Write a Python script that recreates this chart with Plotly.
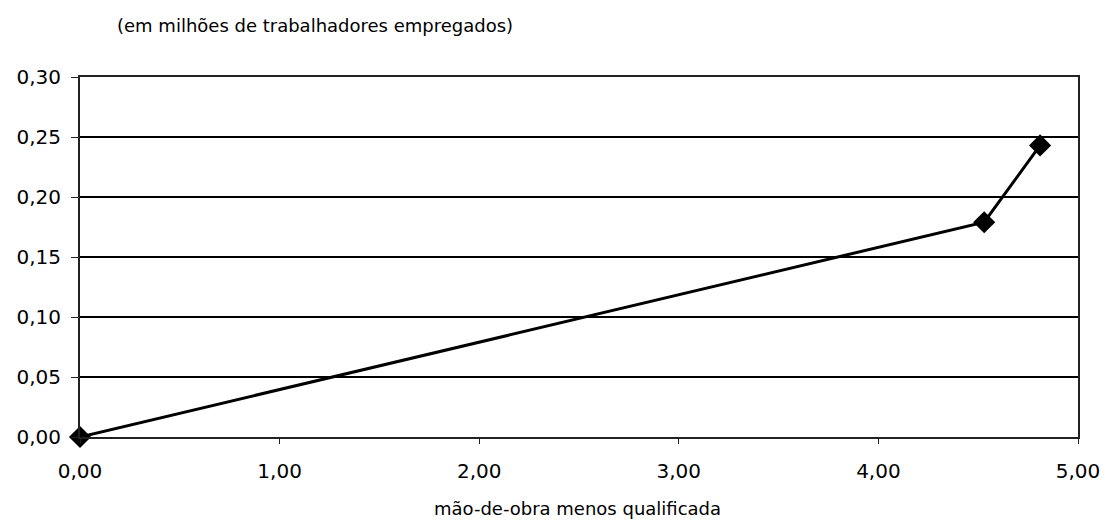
import plotly.graph_objects as go

# Trabalhadores empregados (milhões) vs. mão-de-obra menos qualificada
x_vals = [0.00, 4.53, 4.81]
y_vals = [0.00, 0.179, 0.243]

x_ticks = [0, 1, 2, 3, 4, 5]
x_ticktext = ["0,00", "1,00", "2,00", "3,00", "4,00", "5,00"]
y_ticks = [0, 0.05, 0.10, 0.15, 0.20, 0.25, 0.30]
y_ticktext = ["0,00", "0,05", "0,10", "0,15", "0,20", "0,25", "0,30"]

font_family = "'DejaVu Sans', sans-serif"

fig = go.Figure()
fig.add_trace(go.Scatter(
    x=x_vals, y=y_vals, mode="lines+markers",
    line=dict(color="black", width=3),
    marker=dict(symbol="diamond", size=17, color="black"),
    cliponaxis=False, showlegend=False,
))

fig.update_layout(
    width=1103, height=520,
    margin=dict(l=80, r=25, t=77, b=83, autoexpand=False),
    paper_bgcolor="white", plot_bgcolor="white",
    font=dict(family=font_family, color="black", size=20),
    annotations=[
        dict(text="(em milhões de trabalhadores empregados)", xref="paper", yref="paper",
             x=0.035, y=1, yshift=52, xanchor="left", yanchor="middle",
             showarrow=False, font=dict(size=18)),
        dict(text="mão-de-obra menos qualificada", xref="paper", yref="paper",
             x=0.4985, y=0, yshift=-71, xanchor="center", yanchor="middle",
             showarrow=False, font=dict(size=18)),
    ],
)

fig.update_xaxes(
    range=[0, 5], tickvals=x_ticks, ticktext=x_ticktext,
    showgrid=False, zeroline=False, automargin=False,
    showline=True, linecolor="#222", linewidth=2, mirror=True,
    ticks="outside", ticklen=5, tickcolor="#222", ticklabelstandoff=10,
)
fig.update_yaxes(
    range=[0, 0.30], tickvals=y_ticks, ticktext=y_ticktext,
    showgrid=True, gridcolor="black", gridwidth=1.5, zeroline=False, automargin=False,
    showline=True, linecolor="#222", linewidth=2, mirror=True,
    ticks="outside", ticklen=7, tickcolor="#222", ticklabelstandoff=6,
)

fig.write_html("out.html")
